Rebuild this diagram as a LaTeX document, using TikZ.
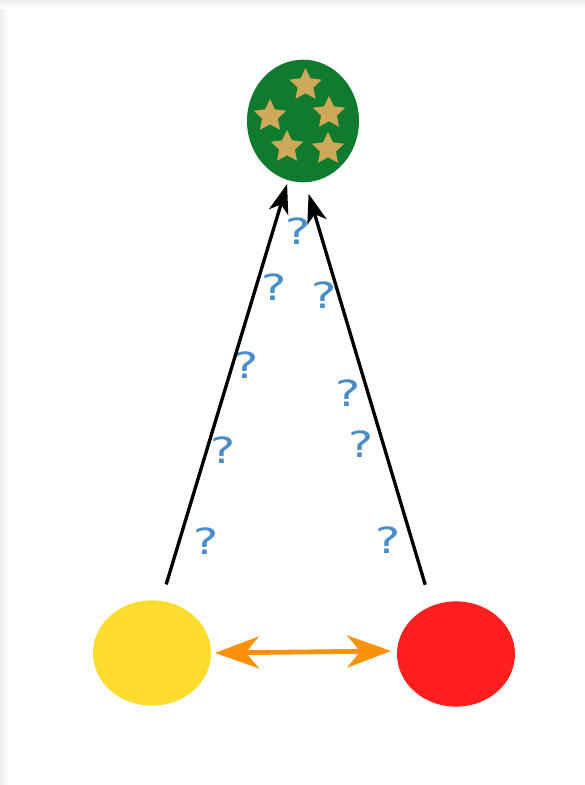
\documentclass[tikz,border=0pt]{standalone}
\usepackage{fontspec}
\setmainfont{DejaVu Sans}
\usetikzlibrary{arrows.meta,shapes.geometric}
\definecolor{bggray}{HTML}{EDEDED}
\definecolor{qblue}{HTML}{4A8CC6}
\definecolor{ballgreen}{HTML}{107A2E}
\definecolor{stargold}{HTML}{CFA95A}
\definecolor{ballyellow}{HTML}{FEDC2D}
\definecolor{ballred}{HTML}{FE1F1E}
\definecolor{linkorange}{HTML}{FB9209}
\newcommand{\qm}{\scalebox{1.32}[1]{?}}
\tikzset{
  ball/.style={ellipse,draw=none,inner sep=0pt,outer sep=0pt},
  gem/.style={star,star points=5,star point ratio=2.05,fill=stargold,draw=none,inner sep=0pt,outer sep=0pt,minimum size=25.5pt},
  qmark/.style={text=qblue,font=\fontsize{27}{29}\selectfont,inner sep=0pt},
  pull/.style={draw=black,line width=2.5pt,-{Stealth[length=22pt,width=15pt,inset=6pt]}},
  link/.style={draw=linkorange,line width=3.6pt,{Stealth[length=33pt,width=24pt,inset=10pt]}-{Stealth[length=33pt,width=24pt,inset=10pt]}}
}
\begin{document}
\begin{tikzpicture}[x=0.75pt,y=-0.75pt]
\useasboundingbox (0,0) rectangle (585,785);
\shade[left color=bggray,right color=white] (0,0) rectangle (8,785);
\shade[top color=bggray,bottom color=white] (0,0) rectangle (585,8);
\node[ball,fill=ballgreen,minimum width=84pt,minimum height=92pt] (green) at (303,121) {};
\node[ball,fill=ballyellow,minimum width=88.5pt,minimum height=79pt] (yellow) at (152,653) {};
\node[ball,fill=ballred,minimum width=88.5pt,minimum height=79pt] (red) at (456,654) {};
\node[gem] (s1) at (305.5,85) {};
\node[gem] (s2) at (270,116) {};
\node[gem] (s3) at (329,113) {};
\node[gem] (s4) at (287,147) {};
\node[gem] (s5) at (328,149) {};
\node[qmark] (q1) at (298,231) {\qm};
\node[qmark] (q2) at (274,287) {\qm};
\node[qmark] (q3) at (246,365) {\qm};
\node[qmark] (q4) at (223,450) {\qm};
\node[qmark] (q5) at (206,541) {\qm};
\node[qmark] (q6) at (324,295) {\qm};
\node[qmark] (q7) at (348,393) {\qm};
\node[qmark] (q8) at (361,444) {\qm};
\node[qmark] (q9) at (388,540) {\qm};
\draw[pull,shorten <=13pt,shorten >=3pt] (yellow.80) -- (green.256);
\draw[pull,shorten <=16.7pt,shorten >=9pt] (red.117.4) -- (green.272);
\draw[link,shorten <=3pt,shorten >=4.5pt] (yellow.east) -- (red.177);
\end{tikzpicture}
\end{document}
